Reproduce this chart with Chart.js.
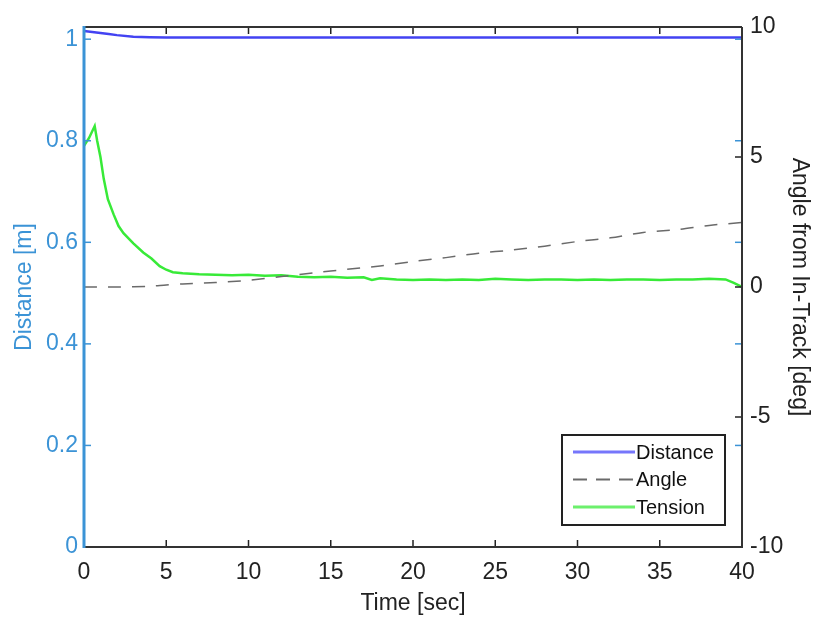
<!DOCTYPE html>
<html>
<head>
<meta charset="utf-8">
<script src="https://cdn.jsdelivr.net/npm/chart.js@4.4.1/dist/chart.umd.min.js"></script>
<style>
  html, body { margin: 0; padding: 0; background: #ffffff; }
  #wrap { width: 815px; height: 618px; }
</style>
</head>
<body>
<div id="wrap"><canvas id="c" width="815" height="618"></canvas></div>
<script>
// ---- Data ----
const timeDistance = [0, 0.5, 1, 1.5, 2, 3, 4, 5, 6, 10, 15, 20, 25, 30, 35, 40];
const distance     = [1.016, 1.014, 1.012, 1.010, 1.008, 1.005, 1.004, 1.0035, 1.0035, 1.0035, 1.0035, 1.0035, 1.0035, 1.0035, 1.0035, 1.0035];

const timeAngle = [0, 2, 4, 5, 6, 8, 10, 12, 14, 16, 18, 20, 22, 24, 26, 28, 30, 32, 34, 36, 38, 40];
const angle     = [0, 0, 0.03, 0.08, 0.12, 0.17, 0.26, 0.40, 0.55, 0.68, 0.81, 0.98, 1.13, 1.30, 1.42, 1.57, 1.75, 1.89, 2.10, 2.20, 2.37, 2.48];

const timeTension = [0, 0.3, 0.65, 0.8, 1.0, 1.2, 1.45, 1.8, 2.1, 2.4, 3.0, 3.6, 4.1, 4.6, 5.0, 5.4, 6, 7, 8, 9, 10, 11, 12, 13, 14, 15, 16, 17, 17.5, 18, 19, 20, 21, 22, 23, 24, 25, 26, 27, 28, 29, 30, 31, 32, 33, 34, 35, 36, 37, 38, 39, 39.5, 40];
const tension     = [0.790, 0.805, 0.829, 0.800, 0.768, 0.725, 0.685, 0.655, 0.632, 0.618, 0.598, 0.580, 0.568, 0.553, 0.546, 0.541, 0.539, 0.537, 0.536, 0.535, 0.536, 0.534, 0.535, 0.532, 0.531, 0.532, 0.530, 0.531, 0.526, 0.529, 0.527, 0.526, 0.527, 0.526, 0.527, 0.526, 0.528, 0.527, 0.526, 0.527, 0.527, 0.526, 0.527, 0.526, 0.527, 0.527, 0.526, 0.527, 0.527, 0.528, 0.527, 0.520, 0.512];

const xTicks     = [0, 5, 10, 15, 20, 25, 30, 35, 40];
const leftTicks  = [0, 0.2, 0.4, 0.6, 0.8, 1];
const rightTicks = [-10, -5, 0, 5, 10];

const seriesLabels = ['Distance', 'Angle', 'Tension'];

// ---- Styles ----
const BLUE_AXIS = '#3b93d6';
const FONT = '"Liberation Sans", Arial, sans-serif';
const FS = 23;

function pts(ts, vs) { return ts.map((t, i) => ({ x: t, y: vs[i] })); }

const framePlugin = {
  id: 'frame',
  afterDatasetsDraw(chart) {
    const { ctx, chartArea: a, scales } = chart;
    const x = scales.x, y = scales.y, y1 = scales.y1;
    const L = 7;
    ctx.save();
    const seg = (x0, y0, x1, y1_) => { ctx.beginPath(); ctx.moveTo(x0, y0); ctx.lineTo(x1, y1_); ctx.stroke(); };
    // x ticks (inward, bottom and top)
    ctx.strokeStyle = '#222'; ctx.lineWidth = 1.5;
    xTicks.forEach(v => { const p = x.getPixelForValue(v); seg(p, a.bottom, p, a.bottom - L); seg(p, a.top, p, a.top + L); });
    // right axis ticks (inward, right side)
    rightTicks.forEach(v => { const p = y1.getPixelForValue(v); seg(a.right, p, a.right - L, p); });
    // left axis ticks (blue, both sides)
    ctx.strokeStyle = BLUE_AXIS;
    leftTicks.forEach(v => { const p = y.getPixelForValue(v); seg(a.left, p, a.left + L, p); seg(a.right, p, a.right - L, p); });
    // frame
    ctx.strokeStyle = '#333'; ctx.lineWidth = 2;
    seg(a.left, a.top, a.right, a.top);
    seg(a.right, a.top, a.right, a.bottom);
    seg(a.left, a.bottom, a.right + 1, a.bottom);
    ctx.strokeStyle = BLUE_AXIS; ctx.lineWidth = 3;
    seg(a.left, a.top - 1, a.left, a.bottom + 1);
    ctx.restore();
  }
};

const legendPlugin = {
  id: 'boxLegend',
  afterDraw(chart) {
    const { ctx, chartArea: a } = chart;
    const bx = a.right - 180, by = a.bottom - 112, bw = 163, bh = 90;
    ctx.save();
    ctx.fillStyle = '#fff';
    ctx.fillRect(bx, by, bw, bh);
    ctx.strokeStyle = '#222'; ctx.lineWidth = 2;
    ctx.strokeRect(bx, by, bw, bh);
    ctx.font = '20px ' + FONT;
    ctx.textBaseline = 'middle';
    ctx.fillStyle = '#111';
    chart.data.datasets.forEach((ds, i) => {
      const ry = by + 17 + i * 27.5;
      ctx.strokeStyle = ds.legendColor || ds.borderColor;
      ctx.lineWidth = ds.borderWidth + 0.5;
      ctx.setLineDash(ds.borderDash ? [14, 9] : []);
      ctx.beginPath(); ctx.moveTo(bx + 11, ry); ctx.lineTo(bx + 73, ry); ctx.stroke();
      ctx.setLineDash([]);
      ctx.fillText(ds.label, bx + 74, ry + 1);
    });
    ctx.restore();
  }
};

new Chart(document.getElementById('c'), {
  type: 'line',
  data: {
    datasets: [
      { label: seriesLabels[0], data: pts(timeDistance, distance), yAxisID: 'y', borderColor: '#4343f2', legendColor: '#7676fb', borderWidth: 2.5, pointRadius: 0, tension: 0 },
      { label: seriesLabels[1], data: pts(timeAngle, angle), yAxisID: 'y1', borderColor: '#6a6a6a', borderDash: [13, 11], borderWidth: 1.5, pointRadius: 0, tension: 0.3 },
      { label: seriesLabels[2], data: pts(timeTension, tension), yAxisID: 'y', borderColor: '#38ea38', legendColor: '#6cf06c', borderWidth: 2.5, pointRadius: 0, tension: 0 }
    ]
  },
  options: {
    responsive: false,
    animation: false,
    layout: { padding: { top: 27, left: 0, right: 0, bottom: 0 } },
    plugins: { legend: { display: false }, tooltip: { enabled: false } },
    scales: {
      x: {
        type: 'linear', min: 0, max: 40,
        afterBuildTicks: s => { s.ticks = xTicks.map(v => ({ value: v })); },
        afterFit: s => { s.height = 71; },
        grid: { display: false, drawTicks: false },
        border: { display: false },
        ticks: { color: '#222', font: { size: FS, family: FONT }, padding: 12, maxRotation: 0, autoSkip: false, callback: v => String(v) },
        title: { display: true, text: 'Time [sec]', color: '#222', font: { size: FS, family: FONT }, padding: { top: 0, bottom: 1 } }
      },
      y: {
        type: 'linear', position: 'left', min: 0, max: 1.024,
        afterBuildTicks: s => { s.ticks = leftTicks.map(v => ({ value: v })); },
        afterFit: s => { s.width = 84; },
        grid: { display: false, drawTicks: false },
        border: { display: false },
        ticks: { color: BLUE_AXIS, font: { size: FS, family: FONT }, padding: 6, autoSkip: false, callback: v => String(v) },
        title: { display: true, text: 'Distance [m]', color: BLUE_AXIS, font: { size: FS, family: FONT }, padding: { top: 11, bottom: 0 } }
      },
      y1: {
        type: 'linear', position: 'right', min: -10, max: 10,
        afterBuildTicks: s => { s.ticks = rightTicks.map(v => ({ value: v })); },
        afterFit: s => { s.width = 73; },
        grid: { display: false, drawTicks: false },
        border: { display: false },
        ticks: { color: '#222', font: { size: FS, family: FONT }, padding: 8, autoSkip: false, callback: v => String(v) },
        title: { display: true, text: 'Angle from In-Track [deg]', color: '#222', font: { size: FS, family: FONT }, padding: { top: 2, bottom: 0 } }
      }
    }
  },
  plugins: [framePlugin, legendPlugin]
});
</script>
</body>
</html>
